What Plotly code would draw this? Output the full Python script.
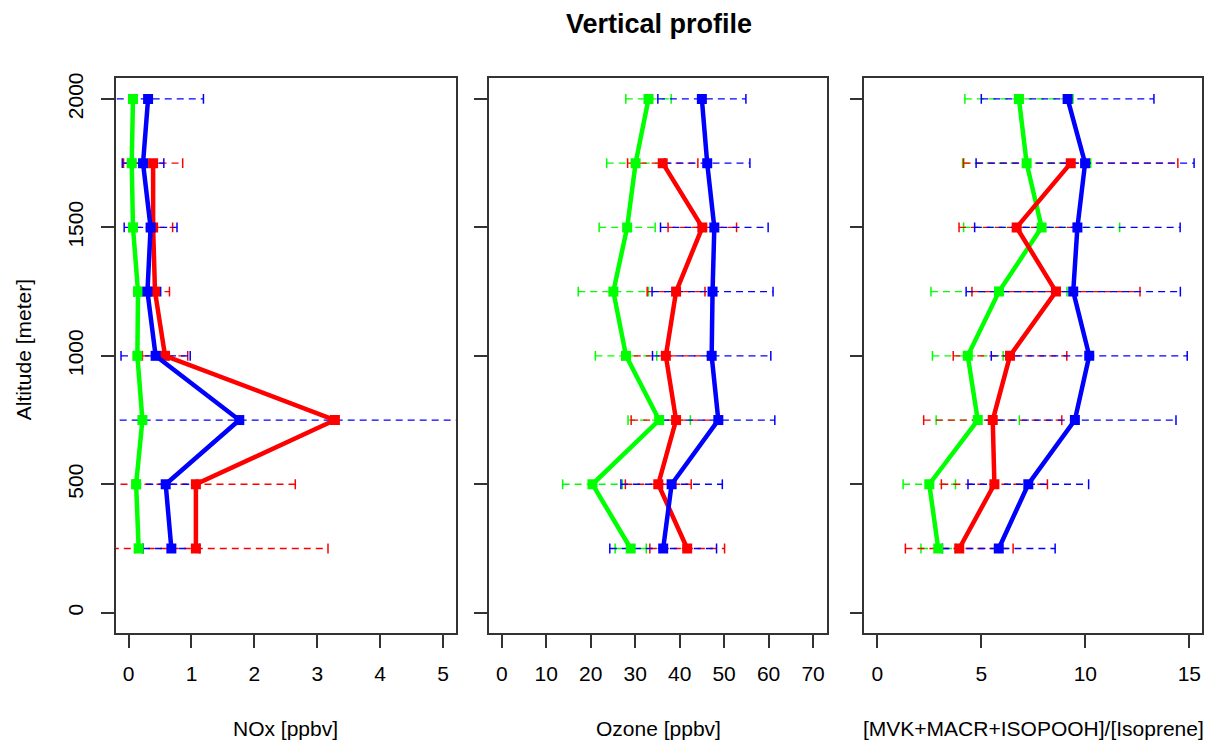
import plotly.graph_objects as go

# ---------------- data ----------------
altitude = [250, 500, 750, 1000, 1250, 1500, 1750, 2000]

nox_green = [0.16, 0.12, 0.22, 0.14, 0.15, 0.07, 0.05, 0.07]
nox_green_err = [0.06, 0.06, 0.06, 0.06, 0.06, 0.06, 0.06, 0.06]
nox_red = [1.07, 1.07, 3.28, 0.58, 0.42, 0.39, 0.39, None]
nox_red_err = [2.10, 1.58, None, 0.36, 0.23, 0.31, 0.47, None]
nox_blue = [0.68, 0.59, 1.76, 0.43, 0.30, 0.35, 0.23, 0.31]
nox_blue_err = [0.45, 0.50, 4.00, 0.55, 0.21, 0.42, 0.33, 0.88]

o3_green = [29.0, 20.4, 35.4, 27.95, 25.1, 28.2, 30.1, 33.0]
o3_green_err = [3.5, 6.7, 7.0, 6.9, 7.9, 6.3, 6.5, 5.1]
o3_red = [41.7, 35.2, 39.2, 36.9, 39.2, 45.1, 36.2, None]
o3_red_err = [8.4, 7.4, 10.1, 9.9, 6.5, 7.7, 7.9, None]
o3_blue = [36.3, 38.2, 48.7, 47.2, 47.4, 47.8, 46.2, 45.0]
o3_blue_err = [12.0, 11.4, 12.7, 13.3, 13.6, 12.1, 9.6, 9.9]

rat_green = [2.93, 2.50, 4.83, 4.35, 5.85, 7.90, 7.18, 6.81]
rat_green_err = [0.83, 1.26, 2.00, 1.70, 3.27, 3.75, 3.08, 2.60]
rat_red = [3.94, 5.63, 5.55, 6.38, 8.59, 6.70, 9.30, None]
rat_red_err = [2.59, 2.55, 3.32, 2.73, 4.04, 2.77, 5.15, None]
rat_blue = [5.84, 7.26, 9.50, 10.19, 9.42, 9.62, 9.99, 9.15]
rat_blue_err = [2.71, 2.90, 4.86, 4.71, 5.15, 4.94, 5.24, 4.15]

x_titles = ["NOx [ppbv]", "Ozone [ppbv]", "[MVK+MACR+ISOPOOH]/[Isoprene]"]
x_ranges = [[-0.2, 5.2], [-2.86, 73.2], [-0.625, 15.625]]
x_dticks = [1, 10, 5]
y_ticks = [0, 500, 1000, 1500, 2000]

GREEN, RED, BLUE = "#00FF00", "#FF0000", "#0000FF"
FONT = "Liberation Sans, Arial, sans-serif"

panels = [
    [(nox_green, nox_green_err, GREEN), (nox_red, nox_red_err, RED), (nox_blue, nox_blue_err, BLUE)],
    [(o3_green, o3_green_err, GREEN), (o3_red, o3_red_err, RED), (o3_blue, o3_blue_err, BLUE)],
    [(rat_green, rat_green_err, GREEN), (rat_red, rat_red_err, RED), (rat_blue, rat_blue_err, BLUE)],
]

W, H = 1221, 749
x_domains_px = [(116, 455.7), (489, 827.3), (864.3, 1202.3)]
y_dom = [(H - 632.3) / H, (H - 73) / H]

fig = go.Figure()

for i, series in enumerate(panels):
    xa = "x" if i == 0 else f"x{i+1}"
    ya = "y" if i == 0 else f"y{i+1}"
    # error bars (dashed)
    for vals, errs, col in series:
        ex, ey, cx, cy = [], [], [], []
        for a, v, e in zip(altitude, vals, errs):
            if v is None or e is None:
                continue
            ex += [v - e, v + e, None]
            ey += [a, a, None]
            cx += [v - e, v + e]
            cy += [a, a]
        fig.add_trace(go.Scatter(x=ex, y=ey, mode="lines", xaxis=xa, yaxis=ya,
                                 line=dict(color=col, width=1.3, dash="7px,5px"),
                                 showlegend=False, hoverinfo="skip"))
        fig.add_trace(go.Scatter(x=cx, y=cy, mode="markers", xaxis=xa, yaxis=ya,
                                 marker=dict(symbol="line-ns", size=7, color=col,
                                             line=dict(color=col, width=1.5)),
                                 showlegend=False, hoverinfo="skip"))
    # profile lines
    for vals, errs, col in series:
        fig.add_trace(go.Scatter(x=vals, y=altitude, mode="lines+markers", xaxis=xa, yaxis=ya,
                                 line=dict(color=col, width=4.5),
                                 marker=dict(symbol="square", size=10, color=col),
                                 connectgaps=False, showlegend=False))

layout = dict(
    width=W, height=H,
    margin=dict(l=0, r=0, t=0, b=0),
    paper_bgcolor="white", plot_bgcolor="white",
    showlegend=False,
    font=dict(family=FONT, size=21, color="black"),
)
for i in range(3):
    xkey = "xaxis" if i == 0 else f"xaxis{i+1}"
    ykey = "yaxis" if i == 0 else f"yaxis{i+1}"
    x0, x1 = x_domains_px[i]
    layout[xkey] = dict(
        domain=[x0 / W, x1 / W], anchor="y" if i == 0 else f"y{i+1}",
        range=x_ranges[i], tick0=0, dtick=x_dticks[i], showgrid=False, zeroline=False,
        showline=True, mirror=True, linecolor="#333333", linewidth=1.5,
        ticks="outside", ticklen=13, tickwidth=1.5, tickcolor="#333333",
        tickfont=dict(size=21, color="black", family=FONT), ticklabelstandoff=8,
    )
    layout[ykey] = dict(
        domain=y_dom, anchor="x" if i == 0 else f"x{i+1}",
        range=[-80, 2080], tickvals=y_ticks, showgrid=False, zeroline=False,
        showline=True, mirror=True, linecolor="#333333", linewidth=1.5,
        ticks="outside", ticklen=13, tickwidth=1.5, tickcolor="#333333",
        showticklabels=(i == 0), tickangle=-90,
        tickfont=dict(size=21, color="black", family=FONT), ticklabelstandoff=10,
    )
fig.update_layout(**layout)

annotations = [
    dict(text="<b>Vertical profile</b>", x=659 / W, y=1 - 18 / H, xref="paper", yref="paper",
         showarrow=False, xanchor="center", yanchor="middle", font=dict(size=27, family=FONT)),
    dict(text="Altitude [meter]", x=23 / W, y=1 - 347 / H, xref="paper", yref="paper",
         showarrow=False, xanchor="center", yanchor="middle", textangle=-90,
         font=dict(size=21, family=FONT)),
]
for i in range(3):
    x0, x1 = x_domains_px[i]
    annotations.append(dict(text=x_titles[i], x=(x0 + x1) / 2 / W, y=1 - 728 / H,
                            xref="paper", yref="paper", showarrow=False,
                            xanchor="center", yanchor="middle", font=dict(size=21, family=FONT)))
fig.update_layout(annotations=annotations)

fig.write_html("out.html")
